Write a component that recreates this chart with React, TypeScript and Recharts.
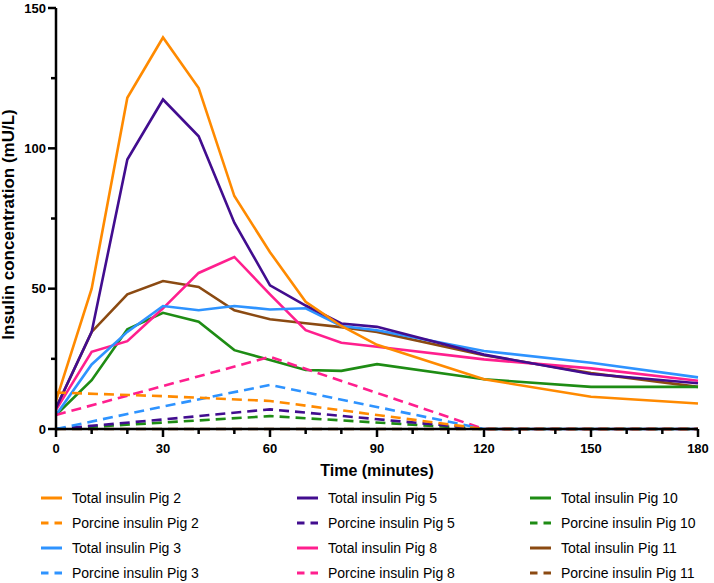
import React from "react";
import { LineChart, Line, XAxis, YAxis, Legend } from "recharts";

// sampling times (minutes)
const times = [0, 10, 20, 30, 40, 50, 60, 70, 80, 90, 120, 150, 180];
const porcineTimes = [0, 30, 60, 120, 150, 180];

// total insulin (mU/L), one value per entry of `times`
const totalPig2 = [10, 50, 118, 139.5, 121.5, 83, 63, 45.3, 36.7, 30, 17.7, 11.5, 9.1];
const totalPig3 = [5, 23, 34.6, 43.8, 42.3, 43.8, 42.6, 43, 36.7, 35.2, 27.8, 23.6, 18.4];
const totalPig5 = [7.5, 34.6, 96, 117.4, 104.3, 73.5, 51.2, 44, 37.6, 36.4, 26.5, 19.6, 16.3];
const totalPig8 = [6.8, 27.5, 31.3, 43, 55.6, 61.3, 48, 35.2, 30.7, 29.3, 24.8, 21.6, 17.2];
const totalPig10 = [5, 17.4, 35.5, 41.4, 38.2, 28.1, 24.6, 21, 20.7, 23.1, 17.7, 15, 15];
const totalPig11 = [7.5, 34.6, 48, 52.7, 50.6, 42.3, 39.1, 37.7, 36.3, 34.6, 26.3, 19.9, 15];

// porcine insulin (mU/L), one value per entry of `porcineTimes`
const porcinePig2 = [13, 11.7, 10, 0, 0, 0];
const porcinePig3 = [0, 8, 15.7, 0, 0, 0];
const porcinePig5 = [0, 3.4, 7, 0, 0, 0];
const porcinePig8 = [5, 15.3, 25.7, 0, 0, 0];
const porcinePig10 = [0, 2.3, 4.6, 0, 0, 0];
const porcinePig11 = [0, 0, 0, 0, 0, 0];

const xTicks = [0, 10, 20, 30, 40, 50, 60, 70, 80, 90, 100, 110, 120, 130, 140, 150, 160, 170, 180];
const yTicks = [0, 25, 50, 75, 100, 125, 150];

const COLORS = {
  pig2: "#FF8A00",
  pig3: "#2E93FF",
  pig5: "#420D8F",
  pig8: "#FF1F8E",
  pig10: "#1E8C14",
  pig11: "#8B4A12",
};

// legend order (row by row, three columns)
const series = [
  { key: "t2", name: "Total insulin Pig 2", color: COLORS.pig2, dashed: false, values: totalPig2 },
  { key: "t5", name: "Total insulin Pig 5", color: COLORS.pig5, dashed: false, values: totalPig5 },
  { key: "t10", name: "Total insulin Pig 10", color: COLORS.pig10, dashed: false, values: totalPig10 },
  { key: "p2", name: "Porcine insulin Pig 2", color: COLORS.pig2, dashed: true, values: porcinePig2 },
  { key: "p5", name: "Porcine insulin Pig 5", color: COLORS.pig5, dashed: true, values: porcinePig5 },
  { key: "p10", name: "Porcine insulin Pig 10", color: COLORS.pig10, dashed: true, values: porcinePig10 },
  { key: "t3", name: "Total insulin Pig 3", color: COLORS.pig3, dashed: false, values: totalPig3 },
  { key: "t8", name: "Total insulin Pig 8", color: COLORS.pig8, dashed: false, values: totalPig8 },
  { key: "t11", name: "Total insulin Pig 11", color: COLORS.pig11, dashed: false, values: totalPig11 },
  { key: "p3", name: "Porcine insulin Pig 3", color: COLORS.pig3, dashed: true, values: porcinePig3 },
  { key: "p8", name: "Porcine insulin Pig 8", color: COLORS.pig8, dashed: true, values: porcinePig8 },
  { key: "p11", name: "Porcine insulin Pig 11", color: COLORS.pig11, dashed: true, values: porcinePig11 },
];

// order the lines are painted in (last one on top)
const drawOrder = ["t11", "t10", "t8", "t3", "t5", "t2", "p11", "p10", "p5", "p8", "p3", "p2"];

const chartData = times.map((t, i) => {
  const row: Record<string, number | null> = { t };
  series.forEach((s) => {
    if (s.dashed) {
      const j = porcineTimes.indexOf(t);
      row[s.key] = j >= 0 ? s.values[j] : null;
    } else {
      row[s.key] = s.values[i];
    }
  });
  return row;
});

const FONT = "'Liberation Sans', Arial, Helvetica, sans-serif";

const XTick = (props: any) => {
  const { x, y, payload } = props;
  const major = payload.value % 30 === 0;
  return (
    <g>
      <line x1={x} y1={y} x2={x} y2={y + (major ? 8 : 5)} stroke="#000" strokeWidth={2.5} />
      {major && (
        <text x={x} y={y + 24} textAnchor="middle" fontFamily={FONT} fontWeight="bold" fontSize={13} fill="#000">
          {payload.value}
        </text>
      )}
    </g>
  );
};

const YTick = (props: any) => {
  const { x, y, payload } = props;
  const major = payload.value % 50 === 0;
  return (
    <g>
      <line x1={x} y1={y} x2={x - (major ? 8 : 5)} y2={y} stroke="#000" strokeWidth={2.5} />
      {major && (
        <text x={x - 10} y={y + 4.5} textAnchor="end" fontFamily={FONT} fontWeight="bold" fontSize={13} fill="#000">
          {payload.value}
        </text>
      )}
    </g>
  );
};

const legendCols = [41, 297, 530];

const renderLegend = () => (
  <div style={{ position: "relative", height: 100, width: 714, fontFamily: FONT, fontSize: 14, color: "#000" }}>
    {series.map((s, i) => {
      const col = i % 3;
      const row = Math.floor(i / 3);
      return (
        <div
          key={s.key}
          style={{ position: "absolute", left: legendCols[col], top: row * 25, height: 25, display: "flex", alignItems: "center", whiteSpace: "nowrap" }}
        >
          <svg width={21} height={6} style={{ marginRight: 10 }}>
            <line x1={0} y1={3} x2={21} y2={3} stroke={s.color} strokeWidth={3} strokeDasharray={s.dashed ? "7.5 6" : undefined} />
          </svg>
          <span>{s.name}</span>
        </div>
      );
    })}
  </div>
);

export default function App() {
  return (
    <div style={{ width: 714, height: 583, background: "#fff" }}>
      <style>{`body{margin:0;background:#fff}`}</style>
      <LineChart width={714} height={583} data={chartData} margin={{ top: 8, right: 16, bottom: 4, left: 0 }}>
        <XAxis
          dataKey="t"
          type="number"
          domain={[0, 180]}
          ticks={xTicks}
          interval={0}
          tickSize={0}
          tickMargin={0}
          tickLine={false}
          tick={<XTick />}
          axisLine={{ stroke: "#000", strokeWidth: 2.5 }}
          height={50}
          label={{
            content: (p: any) => {
              const { x, y, width } = p.viewBox;
              return (
                <text x={x + width / 2} y={y + 47} textAnchor="middle" fontFamily={FONT} fontWeight="bold" fontSize={16} fill="#000">
                  Time (minutes)
                </text>
              );
            },
          }}
        />
        <YAxis
          type="number"
          domain={[0, 150]}
          ticks={yTicks}
          interval={0}
          width={56}
          tickSize={0}
          tickMargin={0}
          tickLine={false}
          tick={<YTick />}
          axisLine={{ stroke: "#000", strokeWidth: 2.5 }}
          label={{
            content: (p: any) => {
              const { y, height } = p.viewBox;
              return (
                <text
                  transform={`translate(14,${y + height / 2 + 6}) rotate(-90)`}
                  textAnchor="middle"
                  fontFamily={FONT}
                  fontWeight="bold"
                  fontSize={17}
                  fill="#000"
                >
                  Insulin concentration (mU/L)
                </text>
              );
            },
          }}
        />
        <Legend verticalAlign="bottom" content={renderLegend} wrapperStyle={{ top: 485, left: 0, width: 714 }} />
        {drawOrder.map((k) => {
          const s = series.find((e) => e.key === k)!;
          return (
            <Line
              key={s.key}
              dataKey={s.key}
              name={s.name}
              type="linear"
              stroke={s.color}
              strokeWidth={2.6}
              strokeDasharray={s.dashed ? "10 6" : undefined}
              dot={false}
              activeDot={false}
              connectNulls
              isAnimationActive={false}
            />
          );
        })}
      </LineChart>
    </div>
  );
}
